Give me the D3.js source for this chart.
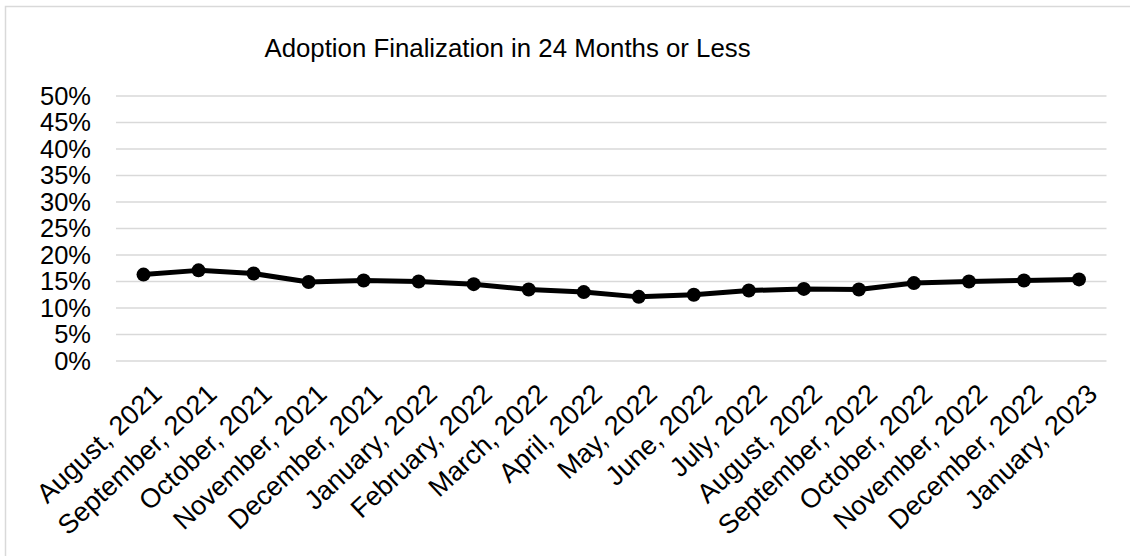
<!DOCTYPE html>
<html>
<head>
<meta charset="utf-8">
<script src="https://cdn.jsdelivr.net/npm/d3@7"></script>
<style>
  html,body{margin:0;padding:0;background:#fff;}
  svg{display:block;font-family:Arial,"Liberation Sans",sans-serif;}
</style>
</head>
<body>
<svg id="chart" width="1130" height="556"></svg>
<script>
// data
const months = [
  'August, 2021','September, 2021','October, 2021','November, 2021','December, 2021',
  'January, 2022','February, 2022','March, 2022','April, 2022','May, 2022','June, 2022',
  'July, 2022','August, 2022','September, 2022','October, 2022','November, 2022',
  'December, 2022','January, 2023'
];
const rates = [16.3, 17.1, 16.5, 14.9, 15.2, 15.0, 14.5, 13.5, 13.0, 12.1, 12.5, 13.3, 13.6, 13.5, 14.7, 15.0, 15.2, 15.4];
const yTicks = [0,5,10,15,20,25,30,35,40,45,50];
const title = 'Adoption Finalization in 24 Months or Less';

(function(){
  const svg = d3.select('#chart');
  const W = 1130, H = 556;
  const plot = {left:116, right:1106.5, top:96, bottom:361};

  // frame runs off the right/bottom edge like the source
  svg.append('rect')
    .attr('x',5.5).attr('y',6.5).attr('width',W+20).attr('height',H+20)
    .attr('fill','#fff').attr('stroke','#d9d9d9').attr('stroke-width',1.5);

  const x = d3.scaleBand().domain(months).range([plot.left, plot.right]);
  const y = d3.scaleLinear().domain([0,50]).range([plot.bottom, plot.top]);

  // gridlines
  svg.append('g').selectAll('line').data(yTicks).enter()
    .append('line')
    .attr('x1',plot.left).attr('x2',plot.right)
    .attr('y1',d=>y(d)).attr('y2',d=>y(d))
    .attr('stroke','#d9d9d9').attr('stroke-width',1.5);

  // y labels
  const yAxis = d3.axisLeft(y).tickValues(yTicks).tickFormat(d=>d+'%').tickSize(0).tickPadding(0);
  const yg = svg.append('g').attr('transform','translate(91,0)').call(yAxis);
  yg.select('.domain').remove();
  yg.selectAll('text').attr('font-size',25.5).attr('fill','#000')
    .attr('font-family','Arial, "Liberation Sans", sans-serif');

  // x labels, slanted
  const xAxis = d3.axisBottom(x).tickSize(0).tickPadding(0);
  const xg = svg.append('g').attr('transform','translate(0,'+plot.bottom+')').call(xAxis);
  xg.select('.domain').remove();
  xg.selectAll('.tick text')
    .attr('font-size',27).attr('fill','#000')
    .attr('font-family','Arial, "Liberation Sans", sans-serif')
    .attr('text-anchor','end')
    .attr('dy',0).attr('y',0)
    .attr('transform','translate(20,35) rotate(-43)');

  // series
  const cx = d=>x(d.m)+x.bandwidth()/2;
  const pts = months.map((m,i)=>({m, v:rates[i]}));
  svg.append('path').datum(pts)
    .attr('fill','none').attr('stroke','#000').attr('stroke-width',5)
    .attr('stroke-linejoin','round')
    .attr('d', d3.line().x(cx).y(d=>y(d.v)));
  svg.append('g').selectAll('circle').data(pts).enter()
    .append('circle')
    .attr('cx',cx).attr('cy',d=>y(d.v)).attr('r',7).attr('fill','#000');

  svg.append('text')
    .attr('x',507.5).attr('y',57).attr('text-anchor','middle')
    .attr('font-size',25.8).attr('fill','#000')
    .text(title);
})();
</script>
</body>
</html>
